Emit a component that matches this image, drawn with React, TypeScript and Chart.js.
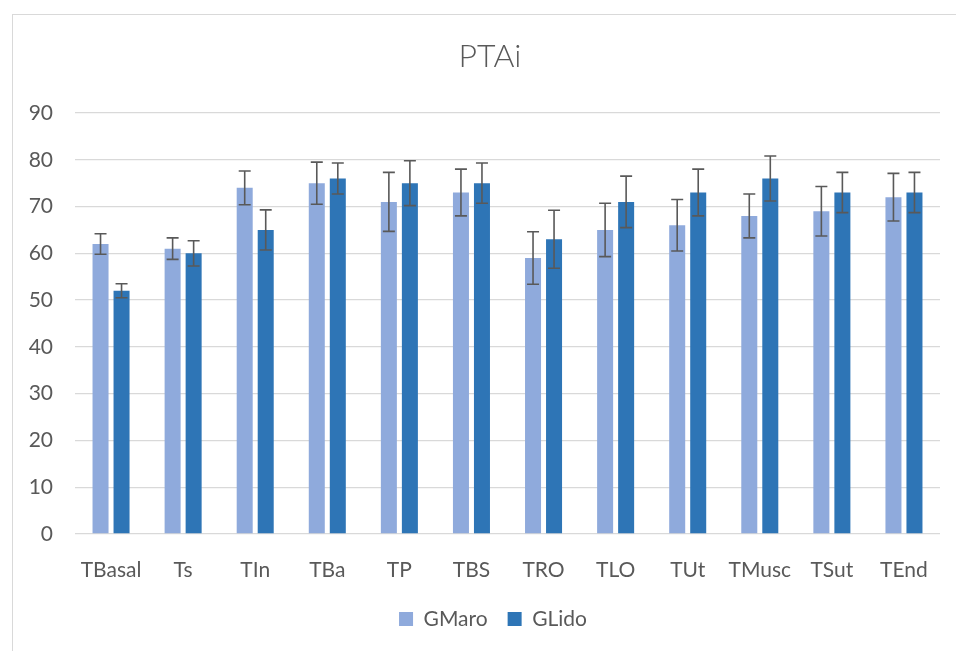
import React, { useEffect, useRef } from "react";
import { Chart, registerables } from "chart.js";

Chart.register(...registerables);

const categories = ["TBasal", "Ts", "TIn", "TBa", "TP", "TBS", "TRO", "TLO", "TUt", "TMusc", "TSut", "TEnd"];
const gMaro = [62, 61, 74, 75, 71, 73, 59, 65, 66, 68, 69, 72];
const gLido = [52, 60, 65, 76, 75, 75, 63, 71, 73, 76, 73, 73];
const gMaroErr = [2.2, 2.3, 3.6, 4.5, 6.3, 5.0, 5.6, 5.7, 5.5, 4.7, 5.3, 5.1];
const gLidoErr = [1.5, 2.7, 4.3, 3.3, 4.8, 4.3, 6.2, 5.5, 5.0, 4.8, 4.3, 4.3];
const yTicks = [0, 10, 20, 30, 40, 50, 60, 70, 80, 90];

const FONT = "Lato, 'Open Sans', sans-serif";
const TEXT = "#595959";

const errorBarPlugin = {
  id: "errorBars",
  afterDatasetsDraw(chart: any) {
    const ctx = chart.ctx;
    const yScale = chart.scales.y;
    const errs = [gMaroErr, gLidoErr];
    ctx.save();
    ctx.strokeStyle = "#595959";
    ctx.lineWidth = 1.6;
    chart.data.datasets.forEach((ds: any, i: number) => {
      const meta = chart.getDatasetMeta(i);
      meta.data.forEach((bar: any, j: number) => {
        const v = ds.data[j];
        const e = errs[i][j];
        const x = bar.x;
        const yTop = yScale.getPixelForValue(v + e);
        const yBot = yScale.getPixelForValue(v - e);
        const cap = 6;
        ctx.beginPath();
        ctx.moveTo(x, yTop);
        ctx.lineTo(x, yBot);
        ctx.moveTo(x - cap, yTop);
        ctx.lineTo(x + cap, yTop);
        ctx.moveTo(x - cap, yBot);
        ctx.lineTo(x + cap, yBot);
        ctx.stroke();
      });
    });
    ctx.restore();
  },
};

// Centre the title and legend on the whole chart frame (which extends past the right edge)
const shiftBoxesPlugin = {
  id: "shiftBoxes",
  afterLayout(chart: any) {
    if (chart.titleBlock) chart.titleBlock.left += 40;
    if (chart.legend) chart.legend.left += 46;
  },
};

export default function App() {
  const ref = useRef<HTMLCanvasElement | null>(null);
  useEffect(() => {
    document.body.style.margin = "0";
    const chart = new Chart(ref.current as HTMLCanvasElement, {
      type: "bar",
      data: {
        labels: categories,
        datasets: [
          { label: "GMaro", data: gMaro, backgroundColor: "#8FAADC", categoryPercentage: 0.583, barPercentage: 0.762 },
          { label: "GLido", data: gLido, backgroundColor: "#2E75B6", categoryPercentage: 0.583, barPercentage: 0.762 },
        ],
      },
      options: {
        animation: false,
        responsive: false,
        maintainAspectRatio: false,
        layout: { padding: { left: 0, right: 16, top: 0, bottom: 11.5 } },
        plugins: {
          tooltip: { enabled: false },
          title: {
            display: true,
            text: "PTAi",
            color: TEXT,
            font: { family: FONT, size: 32, weight: "300" as any, lineHeight: 1.2 },
            padding: { top: 37, bottom: 37.6 },
          },
          legend: {
            position: "bottom",
            labels: {
              color: TEXT,
              font: { family: FONT, size: 21 },
              boxWidth: 14,
              boxHeight: 14,
              padding: 20,
            },
          },
        },
        scales: {
          x: {
            grid: { display: false },
            border: { display: false },
            ticks: { color: TEXT, font: { family: FONT, size: 21 }, padding: 16, maxRotation: 0, autoSkip: false },
            afterFit(scale: any) {
              scale.height = 54.5;
            },
          },
          y: {
            min: 0,
            max: 90,
            afterBuildTicks(scale: any) {
              scale.ticks = yTicks.map((v) => ({ value: v }));
            },
            grid: { color: "#d9d9d9", lineWidth: 1.3, drawTicks: false },
            border: { display: false },
            ticks: { color: TEXT, font: { family: FONT, size: 21 }, padding: 22 },
            afterFit(scale: any) {
              scale.width = 75;
            },
          },
        },
      },
      plugins: [errorBarPlugin, shiftBoxesPlugin],
    });
    return () => chart.destroy();
  }, []);
  return (
    <div style={{ position: "relative", width: 956, height: 651, overflow: "hidden", background: "#fff" }}>
      <div
        style={{
          position: "absolute",
          left: 12,
          top: 14,
          width: 980,
          height: 680,
          border: "1.5px solid #d9d9d9",
          boxSizing: "border-box",
        }}
      />
      <canvas ref={ref} width={956} height={651} style={{ position: "absolute", left: 0, top: 0 }} />
    </div>
  );
}
